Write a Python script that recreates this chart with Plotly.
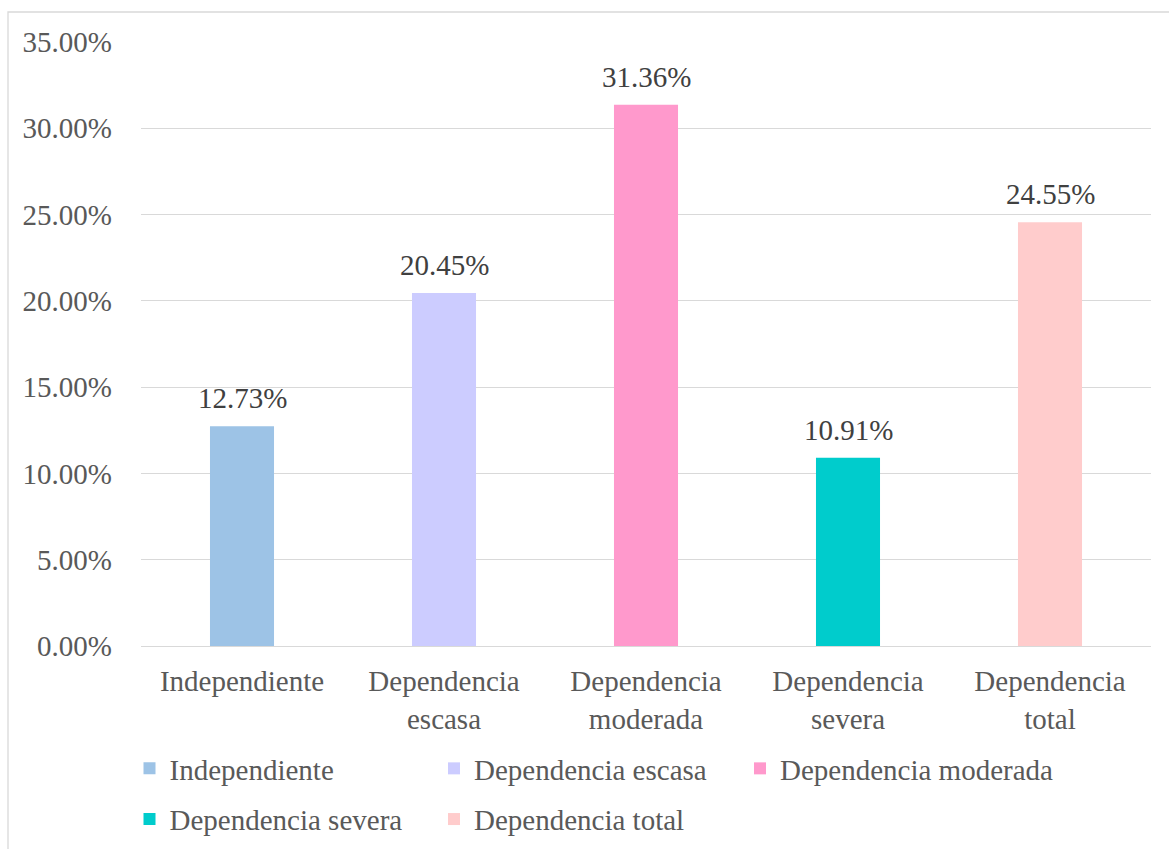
import plotly.graph_objects as go

categories = ["Independiente", "Dependencia escasa", "Dependencia moderada",
              "Dependencia severa", "Dependencia total"]
tick_labels = ["Independiente", "Dependencia<br>escasa", "Dependencia<br>moderada",
               "Dependencia<br>severa", "Dependencia<br>total"]
values = [12.73, 20.45, 31.36, 10.91, 24.55]
colors = ["#9DC3E6", "#CCCCFF", "#FF99CC", "#00CCCC", "#FFCCCC"]
legend_ids = ["legend", "legend2", "legend3", "legend", "legend2"]

W, H = 1169, 849
L, R, T, B = 141, 18, 42, 203
PW, PH = W - L - R, H - T - B

def px_x(p):
    return (p - L) / PW

def px_y(p):
    return (H - B - p) / PH

FONT = "Liberation Serif"
FS = 29

fig = go.Figure()
for i, (cat, v, c) in enumerate(zip(categories, values, colors)):
    fig.add_trace(go.Bar(
        x=[tick_labels[i]], y=[v], name=cat,
        marker=dict(color=c, line=dict(width=0)),
        legend=legend_ids[i], legendgroup=cat,
        hoverinfo="x+y",
    ))

annotations = [
    dict(x=tick_labels[i], y=v, xref="x", yref="y", text=f"{v:.2f}%",
         showarrow=False, yanchor="bottom", yshift=10,
         font=dict(family=FONT, size=FS, color="#404040"))
    for i, v in enumerate(values)
]

leg_common = dict(
    orientation="v", yanchor="top", xanchor="left",
    font=dict(family=FONT, size=FS, color="#595959"),
    bgcolor="rgba(0,0,0,0)", borderwidth=0, tracegroupgap=10,
    itemclick=False, itemdoubleclick=False,
)
leg_y = px_y(743)
fig.update_layout(
    width=W, height=H,
    margin=dict(l=L, r=R, t=T, b=B, pad=0, autoexpand=False),
    paper_bgcolor="white", plot_bgcolor="white",
    barmode="overlay", bargap=0.683,
    font=dict(family=FONT, size=FS, color="#595959"),
    showlegend=True,
    legend=dict(x=px_x(129.5), y=leg_y, **leg_common),
    legend2=dict(x=px_x(434), y=leg_y, **leg_common),
    legend3=dict(x=px_x(740), y=leg_y, **leg_common),
    xaxis=dict(
        showgrid=False, showline=False, zeroline=False, ticks="",
        tickfont=dict(family=FONT, size=FS, color="#595959"),
        categoryorder="array", categoryarray=tick_labels,
        ticklabelstandoff=15, automargin=False,
    ),
    yaxis=dict(
        range=[0, 35], dtick=5, tick0=0,
        tickformat=".2f", ticksuffix="%",
        showgrid=True, gridcolor="#D9D9D9", gridwidth=1.3,
        zeroline=True, zerolinecolor="#D9D9D9", zerolinewidth=1.3,
        showline=False, ticks="",
        tickfont=dict(family=FONT, size=FS, color="#595959"),
        ticklabelstandoff=28, automargin=False,
    ),
    annotations=annotations,
    shapes=[dict(
        type="rect", xref="paper", yref="paper",
        x0=px_x(8), y0=px_y(900), x1=px_x(1200), y1=px_y(12),
        line=dict(color="#D9D9D9", width=1.3), fillcolor="rgba(0,0,0,0)",
        layer="below",
    )],
)

fig.write_html("out.html")
